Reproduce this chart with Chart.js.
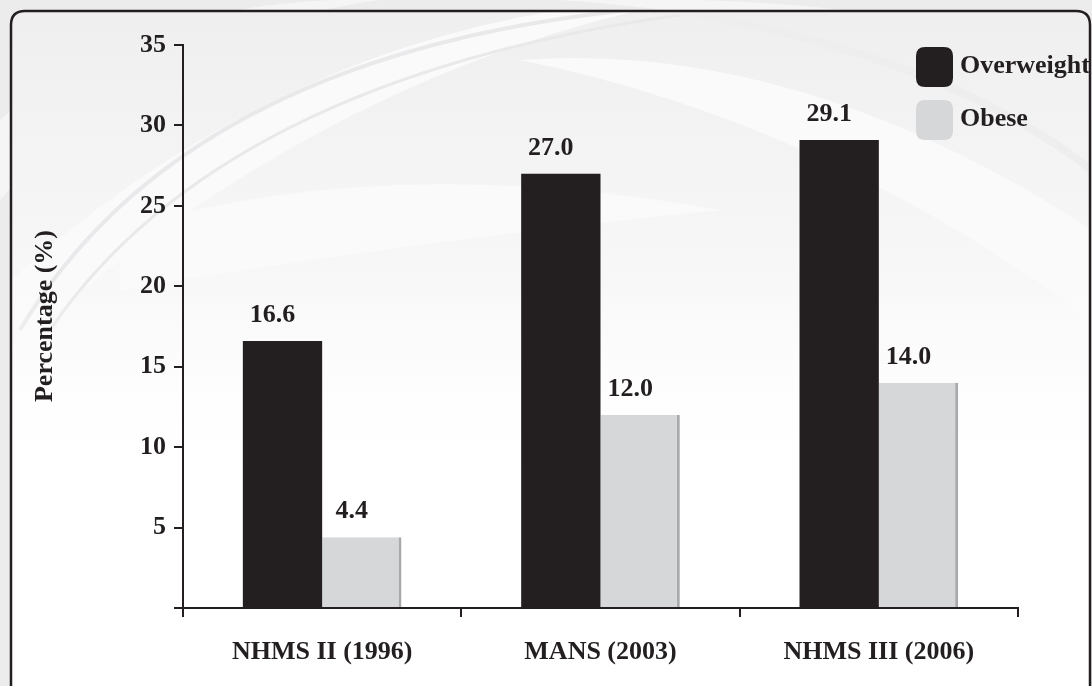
<!DOCTYPE html>
<html>
<head>
<meta charset="utf-8">
<script src="https://cdn.jsdelivr.net/npm/chart.js@4/dist/chart.umd.min.js"></script>
<style>
  html, body { margin: 0; padding: 0; background: #ffffff; }
  #wrap { width: 1092px; height: 686px; }
  .probe { position: absolute; left: -9999px; top: 0; font: bold 26px 'Liberation Serif'; }
</style>
</head>
<body>
<div class="probe">Percentage 0123456789</div>
<div id="wrap"><canvas id="c" width="1092" height="686"></canvas></div>
<script>
// Survey rounds and prevalence (%) of overweight and obesity
const surveys = ['NHMS II (1996)', 'MANS (2003)', 'NHMS III (2006)'];
const overweight = [16.6, 27.0, 29.1];
const obese = [4.4, 12.0, 14.0];
const seriesNames = ['Overweight', 'Obese'];
const yTicks = [0, 5, 10, 15, 20, 25, 30, 35];
const yTitle = 'Percentage (%)';

const INK = '#231f20';
const GREY = '#d6d7d9';
const GREY_EDGE = '#a7a9ac';
const FAMILY = "'Liberation Serif', 'Times New Roman', Times, serif";
const FONT = { family: FAMILY, size: 26, weight: 'bold' };
const fontStr = `bold 26px ${FAMILY}`;

function roundRect(ctx, x, y, w, h, r) {
  ctx.beginPath();
  ctx.moveTo(x + r, y);
  ctx.lineTo(x + w - r, y);
  ctx.quadraticCurveTo(x + w, y, x + w, y + r);
  ctx.lineTo(x + w, y + h - r);
  ctx.quadraticCurveTo(x + w, y + h, x + w - r, y + h);
  ctx.lineTo(x + r, y + h);
  ctx.quadraticCurveTo(x, y + h, x, y + h - r);
  ctx.lineTo(x, y + r);
  ctx.quadraticCurveTo(x, y, x + r, y);
  ctx.closePath();
}

// Soft swirling backdrop and the rounded frame around the plot
const backdrop = {
  id: 'backdrop',
  beforeDraw(chart) {
    const ctx = chart.ctx;
    const W = chart.width, H = chart.height;
    ctx.save();
    ctx.fillStyle = '#ececed';
    ctx.fillRect(0, 0, W, H);

    // outer swirls
    ctx.fillStyle = '#f5f5f6';
    ctx.beginPath();
    ctx.moveTo(0, 120); ctx.quadraticCurveTo(120, 10, 330, 0); ctx.lineTo(380, 0);
    ctx.quadraticCurveTo(150, 30, 0, 200); ctx.closePath(); ctx.fill();
    ctx.beginPath();
    ctx.moveTo(560, 0); ctx.quadraticCurveTo(850, 20, 1092, 120); ctx.lineTo(1092, 60);
    ctx.quadraticCurveTo(900, 5, 700, 0); ctx.closePath(); ctx.fill();

    // panel
    roundRect(ctx, 11, 11, 1079, 690, 14);
    ctx.save();
    ctx.clip();
    const g = ctx.createLinearGradient(0, 11, 0, 480);
    g.addColorStop(0, '#efeff0');
    g.addColorStop(0.6, '#f8f8f8');
    g.addColorStop(1, '#ffffff');
    ctx.fillStyle = g;
    ctx.fillRect(0, 0, W, H);

    // bright sweeping bands
    ctx.fillStyle = '#fafafa';
    ctx.beginPath();
    ctx.moveTo(0, 290); ctx.quadraticCurveTo(250, 60, 560, 10); ctx.lineTo(640, 10);
    ctx.quadraticCurveTo(300, 90, 0, 360); ctx.closePath(); ctx.fill();
    ctx.beginPath();
    ctx.moveTo(120, 230); ctx.quadraticCurveTo(380, 150, 720, 210);
    ctx.quadraticCurveTo(420, 240, 120, 290); ctx.closePath(); ctx.fill();
    ctx.beginPath();
    ctx.moveTo(520, 60); ctx.quadraticCurveTo(800, 40, 1092, 230); ctx.lineTo(1092, 320);
    ctx.quadraticCurveTo(820, 120, 520, 60); ctx.closePath(); ctx.fill();

    // faint thin arcs
    ctx.strokeStyle = '#e9e9eb';
    ctx.lineWidth = 4;
    ctx.beginPath(); ctx.moveTo(20, 330); ctx.quadraticCurveTo(180, 60, 620, 11); ctx.stroke();
    ctx.lineWidth = 3;
    ctx.beginPath(); ctx.moveTo(50, 330); ctx.quadraticCurveTo(220, 80, 680, 15); ctx.stroke();
    ctx.strokeStyle = '#eeeeef';
    ctx.lineWidth = 8;
    ctx.beginPath(); ctx.moveTo(700, 15); ctx.quadraticCurveTo(950, 60, 1092, 170); ctx.stroke();

    // fade the lower half to white
    const f = ctx.createLinearGradient(0, 280, 0, 500);
    f.addColorStop(0, 'rgba(255,255,255,0)');
    f.addColorStop(1, 'rgba(255,255,255,1)');
    ctx.fillStyle = f;
    ctx.fillRect(0, 280, W, H - 280);
    ctx.restore();

    roundRect(ctx, 11, 11, 1079, 690, 14);
    ctx.lineWidth = 2.5;
    ctx.strokeStyle = INK;
    ctx.stroke();
    ctx.restore();
  }
};

// Value labels above bars, axis title and legend
const annotations = {
  id: 'annotations',
  afterDraw(chart) {
    const ctx = chart.ctx;
    ctx.save();
    ctx.font = fontStr;
    ctx.fillStyle = INK;
    ctx.textAlign = 'center';
    ctx.textBaseline = 'alphabetic';
    chart.data.datasets.forEach((ds, i) => {
      const meta = chart.getDatasetMeta(i);
      meta.data.forEach((bar, j) => {
        ctx.fillText(ds.data[j].toFixed(1), bar.x - 10, bar.y - 19);
      });
    });

    // rotated y-axis title
    ctx.save();
    ctx.translate(45, 316);
    ctx.rotate(-Math.PI / 2);
    ctx.textBaseline = 'middle';
    ctx.fillText(yTitle, 0, 0);
    ctx.restore();

    // legend
    const swatches = [INK, GREY];
    ctx.textAlign = 'left';
    ctx.textBaseline = 'middle';
    seriesNames.forEach((name, i) => {
      const y0 = 47 + i * 53;
      roundRect(ctx, 916, y0, 37, 40, 9);
      ctx.fillStyle = swatches[i];
      ctx.fill();
      ctx.fillStyle = INK;
      ctx.fillText(name, 960, y0 + 19);
    });
    ctx.restore();
  }
};

function build() {
  new Chart(document.getElementById('c'), {
    type: 'bar',
    data: {
      labels: surveys,
      datasets: [
        {
          label: seriesNames[0],
          data: overweight,
          backgroundColor: INK,
          borderWidth: 0,
          categoryPercentage: 0.57,
          barPercentage: 1.0
        },
        {
          label: seriesNames[1],
          data: obese,
          backgroundColor: GREY,
          borderColor: GREY_EDGE,
          borderWidth: { top: 0, right: 3, bottom: 0, left: 0 },
          borderSkipped: false,
          categoryPercentage: 0.57,
          barPercentage: 1.0
        }
      ]
    },
    options: {
      responsive: false,
      devicePixelRatio: 1,
      animation: false,
      layout: { padding: { top: 45, right: 74, bottom: 0, left: 0 } },
      plugins: {
        legend: { display: false },
        tooltip: { enabled: false }
      },
      scales: {
        x: {
          grid: { offset: true, drawOnChartArea: false, drawTicks: true, tickLength: 9, color: INK, lineWidth: 2 },
          border: { color: INK, width: 2 },
          ticks: { color: INK, font: FONT, padding: 20, maxRotation: 0 },
          afterFit(s) { s.height = 78; }
        },
        y: {
          min: 0,
          max: 35,
          afterBuildTicks(s) { s.ticks = yTicks.map(v => ({ value: v })); },
          ticks: { color: INK, font: FONT, padding: 8, callback: v => (v === 0 ? '' : v) },
          grid: { drawOnChartArea: false, drawTicks: true, tickLength: 9, color: INK, lineWidth: 2 },
          border: { color: INK, width: 2 },
          afterFit(s) { s.width = 183; }
        }
      }
    },
    plugins: [backdrop, annotations]
  });
}

if (document.fonts && document.fonts.load) {
  document.fonts.load(fontStr, 'Percentage 0123456789').then(build, build);
} else {
  build();
}
</script>
</body>
</html>
